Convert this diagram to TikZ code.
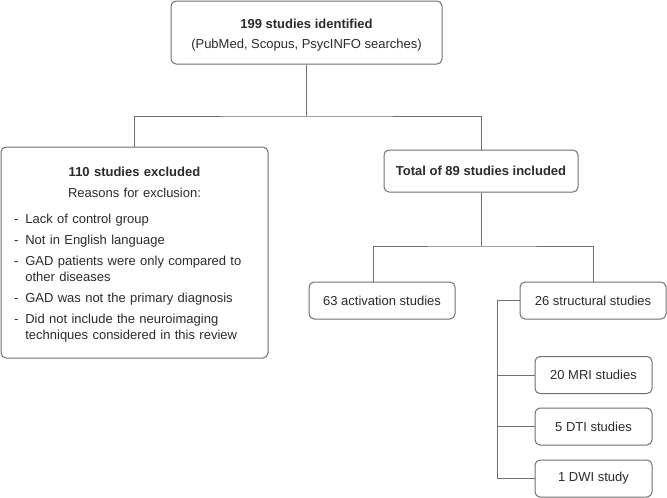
\documentclass[tikz,border=0pt]{standalone}
\usepackage{fontspec}
\setmainfont{Liberation Sans}
\usetikzlibrary{calc}
\definecolor{linegray}{HTML}{707070}
\definecolor{textgray}{HTML}{2B2B2B}
\tikzset{
  studybox/.style={draw=linegray, line width=1pt, rounded corners=5pt, text=textgray, align=center, inner sep=0pt},
  leafbox/.style={studybox, minimum width=117pt, minimum height=37pt},
  midbox/.style={studybox, minimum width=146pt, minimum height=37pt},
  link/.style={draw=linegray, line width=1pt}
}
\begin{document}
\begin{tikzpicture}[x=1pt,y=-1pt,font=\fontsize{13}{16}\selectfont]
%\draw[help lines,step=50] (0,0) grid (667,498);
\fill [white] (0,0) rectangle (667,498);

\node [studybox, minimum width=271pt, minimum height=63pt] (ident) at (306.5,32.5) {\rule{0pt}{15pt}\textbf{199 studies identified}\\[4pt](PubMed, Scopus, PsycINFO searches)};

\node [studybox, align=left, text width=241pt, inner xsep=13pt, minimum width=267pt, minimum height=211pt] (excl) at (134.5,252.5) {%
\makebox[241pt]{\rule{0pt}{16pt}\textbf{110 studies excluded}}\\[5pt]
\makebox[241pt]{Reasons for exclusion:}\\[10pt]
\begin{tabular}[t]{@{}l@{\hspace{7pt}}l@{}}
- & Lack of control group\\[5pt]
- & Not in English language\\[5pt]
- & GAD patients were only compared to\\
  & other diseases\\[5pt]
- & GAD was not the primary diagnosis\\[5pt]
- & Did not include the neuroimaging\\
  & techniques considered in this review
\end{tabular}};

\node [studybox, minimum width=194pt, minimum height=42pt] (incl) at (481,171) {\textbf{Total of 89 studies included}};

\node [midbox] (activ) at (382,300.5) {63 activation studies};
\node [midbox] (struct) at (593,300.5) {26 structural studies};

\node [leafbox] (mri) at (593.5,375) {20 MRI studies};
\node [leafbox] (dti) at (593.5,426.5) {5 DTI studies};
\node [leafbox] (dwi) at (593.5,478.5) {1 DWI study};

% connectors
\coordinate (split) at (306.5,116);
\draw [link] (ident) -- (split);
\draw [link] (excl) |- (split) -| (incl);

\coordinate (split2) at (481,246);
\draw [link] (incl) -- (split2);
\draw [link] ([xshift=-9pt]activ.north) |- (split2) -| (struct);

\coordinate (trunk) at ([xshift=-22pt]struct.west);
\draw [link] (struct) -- (trunk) |- (dwi);
\foreach \n in {mri,dti}
  \draw [link] (trunk |- \n) -- (\n);
\end{tikzpicture}
\end{document}
